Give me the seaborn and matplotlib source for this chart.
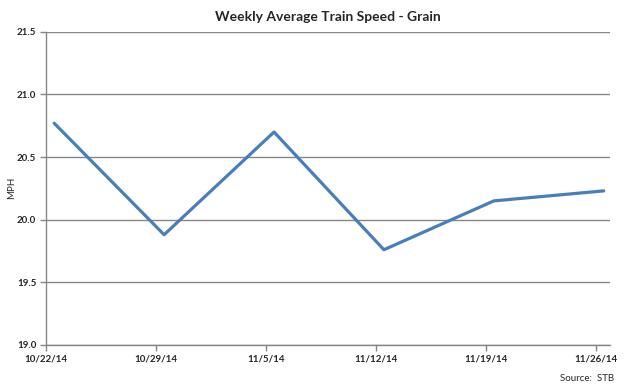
import pandas as pd
import numpy as np
import matplotlib
matplotlib.use("Agg")
import matplotlib.pyplot as plt
import seaborn as sns

# weekly data
weeks = ["10/22/14", "10/29/14", "11/5/14", "11/12/14", "11/19/14", "11/26/14"]
mph = [20.77, 19.88, 20.70, 19.76, 20.15, 20.23]
yticks = [19.0, 19.5, 20.0, 20.5, 21.0, 21.5]

df = pd.DataFrame({"pos": np.arange(len(weeks)), "week": weeks, "MPH": mph})

sns.set_style("white")
plt.rcParams["font.family"] = ["Lato", "DejaVu Sans"]

fig = plt.figure(figsize=(6.28, 3.88), dpi=100)
ax = fig.add_axes([0.0732, 0.111, 0.8978, 0.807])

sns.lineplot(data=df, x="pos", y="MPH", color="#4A7EBB", linewidth=2.3, ax=ax)

# date labels sit a little left of each data point (Excel date axis)
shift = 0.075
ax.set_xticks(df["pos"] - shift)
ax.set_xticklabels(weeks, fontsize=7, fontweight="bold")
ax.set_xlim(-shift, len(weeks) - 1 + 0.055)
ax.set_ylim(19.0, 21.5)
ax.set_yticks(yticks)
ax.set_yticklabels(["%.1f" % v for v in yticks], fontsize=7, fontweight="bold")
ax.yaxis.grid(True, color="#868686", linewidth=1)
ax.set_axisbelow(True)

for s in ["top", "right"]:
    ax.spines[s].set_visible(False)
for s in ["left", "bottom"]:
    ax.spines[s].set_color("#868686")
    ax.spines[s].set_linewidth(1)
ax.tick_params(axis="both", which="both", direction="out", length=4, width=1,
               color="#868686", pad=3, bottom=True, left=True)

ax.set_xlabel("")
ax.set_ylabel("MPH", fontsize=7)
ax.yaxis.set_label_coords(-0.053, 0.5)
ax.set_title("Weekly Average Train Speed - Grain", fontsize=10, fontweight="bold", pad=8)
fig.text(0.978, 0.012, "Source:  STB", ha="right", va="bottom", fontsize=7)

fig.savefig("out.png", dpi=100)
